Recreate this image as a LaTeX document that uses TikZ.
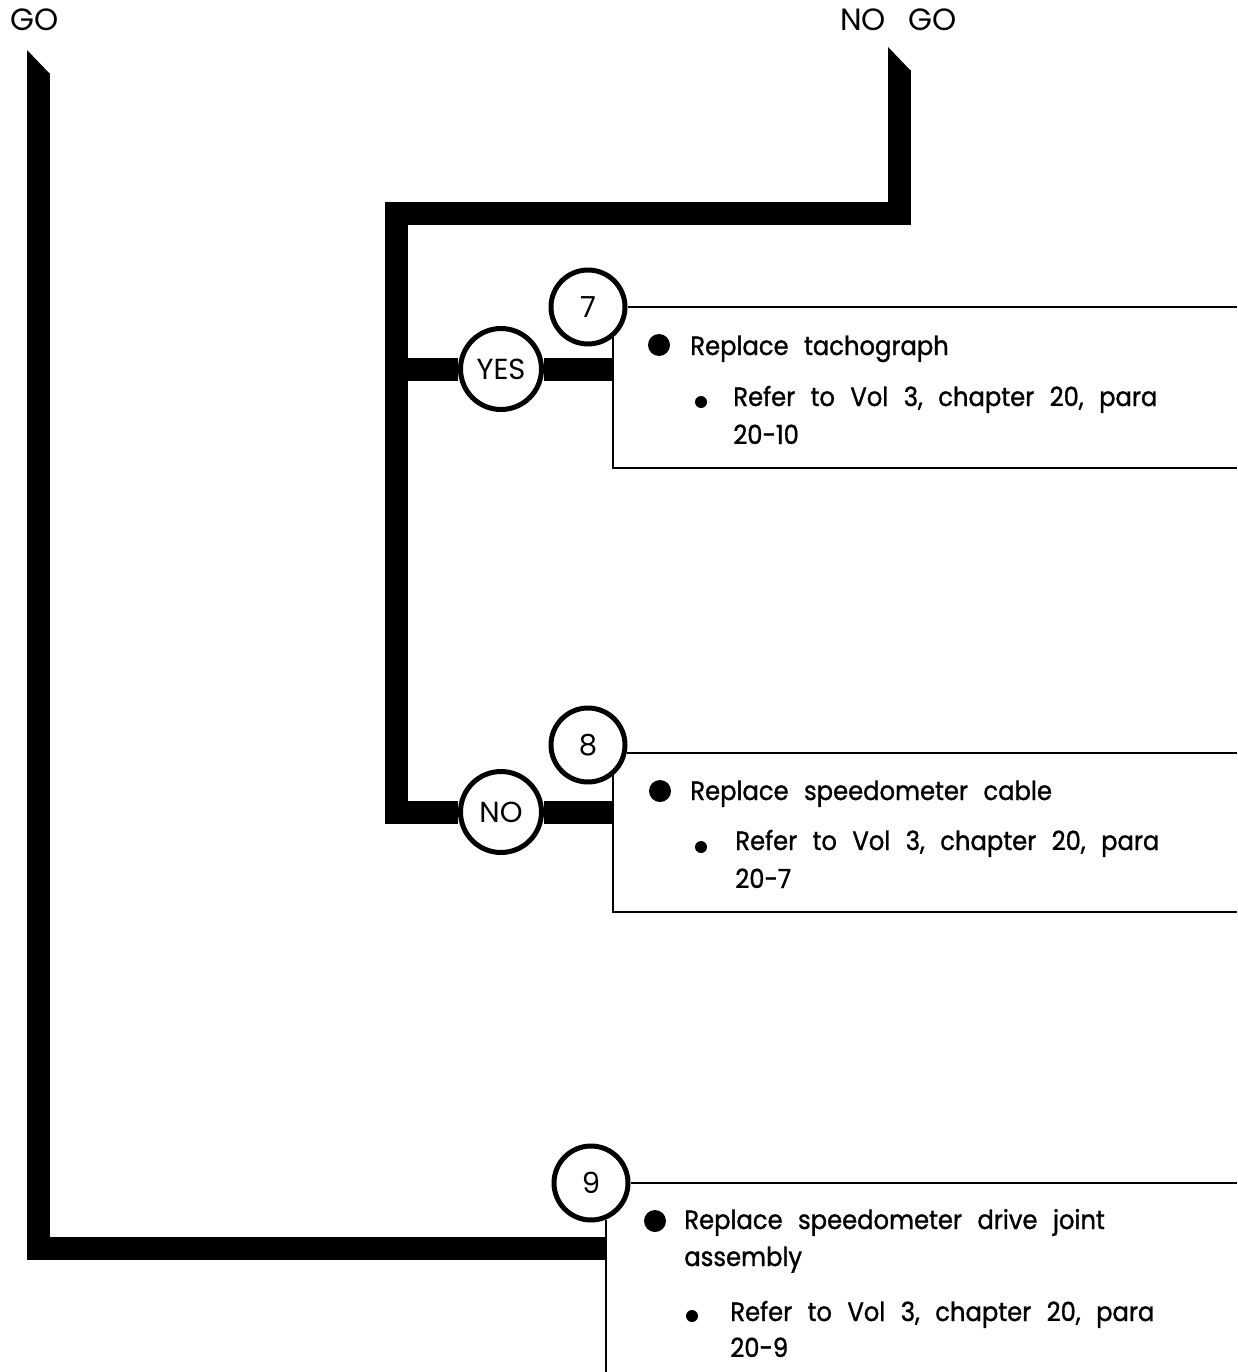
\documentclass[tikz,border=0pt]{standalone}
\usepackage{fontspec}
\setmainfont{Poppins}
\newfontfamily\boxfamily{Poppins}[FakeBold=1.2, FakeStretch=0.92]
\usetikzlibrary{positioning}
\newcommand{\boxfont}{\boxfamily\fontsize{15}{17}\selectfont\spaceskip 8.8pt\relax}
\newcommand{\headfont}{\fontsize{17.5}{20}\selectfont\spaceskip 0.44cm\relax}

\begin{document}
\begin{tikzpicture}[x=0.02cm,y=-0.02cm,
  bar/.style={line width=0.46cm, line join=miter},
  tag/.style={draw, circle, line width=0.1cm, fill=white, inner sep=0pt,
              font=\fontsize{16.5}{18}\selectfont},
  boxline/.style={line width=0.04cm},
  txt/.style={anchor=base west, inner sep=0pt, font=\boxfont},
  toplabel/.style={anchor=base west, inner sep=0pt, font=\headfont},
  bigdot/.style={circle, fill, inner sep=0pt, minimum size=0.44cm},
  smalldot/.style={circle, fill, inner sep=0pt, minimum size=0.24cm}]

  \useasboundingbox (0,0) rectangle (1237,1372);

  %% Top labels
  \node[toplabel] (go) at (10,31) {GO};
  \node[toplabel] (nogo) at (840,31) {NO GO};

  %% Circles
  \node[tag, minimum size=1.62cm] (yes) at (501,369) {YES};
  \node[tag, minimum size=1.62cm] (no) at (501,812) {NO};
  \node[tag, minimum size=1.48cm] (n7) at (588,307) {7};
  \node[tag, minimum size=1.48cm] (n8) at (588,745) {8};
  \node[tag, minimum size=1.48cm] (n9) at (591,1183) {9};

  %% Open boxes (right side runs off the page)
  \coordinate (b7ne) at (1237,307);
  \coordinate (b7se) at (1237,468);
  \coordinate (b8ne) at (1237,753);
  \coordinate (b8se) at (1237,912);
  \coordinate (b9ne) at (1237,1183);
  \coordinate (b9sw) at (605,1372);

  \draw[boxline] (n7) -- (b7ne);
  \draw[boxline] (n7.-50) |- (b7se);
  \draw[boxline] (n8.-12) -- (n8.-12 -| b8ne);
  \draw[boxline] (n8.-50) |- (b8se);
  \draw[boxline] (n9) -- (b9ne);
  \draw[boxline] (n9.-68) -- (n9.-68 |- b9sw);

  %% GO line
  \coordinate (gotop) at (38.5,73);
  \coordinate (b9in) at (605,1248);
  \draw[bar] (gotop) |- (b9in);
  \fill (gotop) +(-11.5,1) -- +(-11.5,-23) -- +(11.5,1) -- cycle;

  %% NO GO line
  \coordinate (nogotop) at (899.5,70);
  \coordinate (split) at (396.5,213.5);
  \draw[bar] (nogotop) |- (split) |- (no);
  \fill (nogotop) +(-11.5,1) -- +(-11.5,-23) -- +(11.5,1) -- cycle;
  \draw[bar] (split |- yes) -- (yes);
  \draw[bar] (yes) -- (n7.-50 |- yes);
  \draw[bar] (no) -- (n8.-50 |- no);

  %% Box 7
  \node[bigdot] (d7) at (659,345) {};
  \node[txt] (t7a) at (690,355) {Replace tachograph};
  \node[smalldot] (s7) at (701,402) {};
  \node[txt] (t7b) at (733,406) {Refer to Vol 3, chapter 20, para};
  \node[txt] (t7c) at (733,444) {20-10};

  %% Box 8
  \node[bigdot] (d8) at (660,791) {};
  \node[txt] (t8a) at (690,800) {Replace speedometer cable};
  \node[smalldot] (s8) at (701,847) {};
  \node[txt] (t8b) at (735,850) {Refer to Vol 3, chapter 20, para};
  \node[txt] (t8c) at (735,888) {20-7};

  %% Box 9
  \node[bigdot] (d9) at (655,1221) {};
  \node[txt] (t9a) at (684,1229) {Replace speedometer drive joint};
  \node[txt] (t9b) at (684,1266) {assembly};
  \node[smalldot] (s9) at (692,1316) {};
  \node[txt] (t9c) at (730,1321) {Refer to Vol 3, chapter 20, para};
  \node[txt] (t9d) at (730,1357) {20-9};
\end{tikzpicture}
\end{document}
